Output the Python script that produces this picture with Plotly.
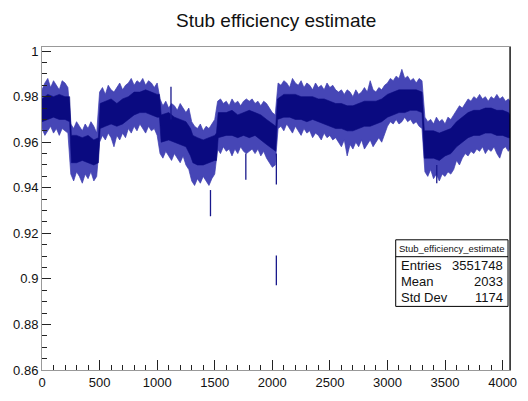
import plotly.graph_objects as go

# ---------------- data ----------------
# outer envelope of the per-bin error bars, sampled every 25 bins
outer_x = list(range(0, 4051, 25)) + [4064]
outer_hi = [
    0.983, 0.986, 0.988, 0.984, 0.987, 0.985, 0.983, 0.987, 0.986, 0.984,
    0.968, 0.966, 0.969, 0.967, 0.965, 0.968, 0.966, 0.969, 0.967, 0.964,
    0.982, 0.984, 0.981, 0.985, 0.983, 0.982, 0.984, 0.986, 0.983, 0.985,
    0.986, 0.988, 0.985, 0.987, 0.986, 0.988, 0.985, 0.987, 0.986, 0.984, 0.986,
    0.979, 0.976, 0.978, 0.975, 0.977, 0.976, 0.974, 0.977, 0.975, 0.973, 0.975,
    0.969, 0.967, 0.966, 0.968, 0.965, 0.967, 0.966, 0.968, 0.970,
    0.978, 0.979, 0.977, 0.978, 0.976, 0.979, 0.977, 0.978, 0.976, 0.978, 0.979,
    0.978, 0.979, 0.977, 0.978, 0.976, 0.978, 0.977, 0.975, 0.973, 0.972,
    0.986, 0.985, 0.987, 0.986, 0.984, 0.988, 0.986, 0.985, 0.987, 0.984,
    0.986, 0.985, 0.983, 0.986, 0.984, 0.985, 0.983, 0.986, 0.984, 0.985, 0.983,
    0.982, 0.983, 0.981, 0.983, 0.982, 0.980, 0.983, 0.981, 0.982, 0.984,
    0.982, 0.987, 0.983, 0.982, 0.984, 0.983, 0.985,
    0.986, 0.988, 0.987, 0.989, 0.988, 0.992, 0.988, 0.989, 0.987, 0.988,
    0.986, 0.988, 0.987,
    0.971, 0.969, 0.970, 0.968, 0.971, 0.969, 0.970, 0.968, 0.971, 0.970, 0.972,
    0.974, 0.976, 0.975, 0.977, 0.979, 0.978, 0.980, 0.979, 0.981, 0.979,
    0.980, 0.978, 0.980, 0.979, 0.981, 0.979, 0.980, 0.978, 0.979,
    0.978]
outer_lo = [
    0.966, 0.963, 0.965, 0.967, 0.964, 0.966, 0.963, 0.966, 0.965, 0.964,
    0.946, 0.943, 0.947, 0.945, 0.942, 0.946, 0.944, 0.947, 0.943, 0.945,
    0.960, 0.963, 0.961, 0.964, 0.962, 0.958, 0.963, 0.961, 0.964, 0.962,
    0.966, 0.964, 0.967, 0.965, 0.968, 0.966, 0.964, 0.967, 0.965, 0.966, 0.963,
    0.955, 0.953, 0.956, 0.954, 0.952, 0.955, 0.953, 0.951, 0.954, 0.950, 0.948,
    0.943, 0.941, 0.944, 0.942, 0.945, 0.943, 0.941, 0.944, 0.946,
    0.957, 0.955, 0.958, 0.956, 0.957, 0.954, 0.957, 0.955, 0.958, 0.956, 0.955,
    0.956, 0.957, 0.955, 0.957, 0.954, 0.956, 0.953, 0.951, 0.949, 0.950,
    0.966, 0.967, 0.965, 0.968, 0.966, 0.964, 0.967, 0.965, 0.963, 0.966,
    0.964, 0.965, 0.962, 0.964, 0.963, 0.961, 0.964, 0.962, 0.963, 0.961, 0.962,
    0.960, 0.958, 0.961, 0.954, 0.959, 0.957, 0.960, 0.958, 0.961, 0.957,
    0.959, 0.961, 0.958, 0.960, 0.962, 0.960, 0.963,
    0.967, 0.969, 0.968, 0.970, 0.968, 0.969, 0.971, 0.969, 0.970, 0.968,
    0.969, 0.967, 0.966,
    0.947, 0.945, 0.948, 0.944, 0.946, 0.943, 0.946, 0.945, 0.947, 0.946, 0.948,
    0.952, 0.950, 0.953, 0.955, 0.954, 0.956, 0.955, 0.957, 0.956, 0.958,
    0.955, 0.957, 0.956, 0.958, 0.955, 0.953, 0.957, 0.958, 0.956,
    0.957]

# dense core of the band
core_x = [0, 50, 100, 150, 200, 240,
          255, 300, 350, 400, 450, 490,
          505, 550, 600, 650, 700, 750, 800, 850, 900, 950, 1000, 1020,
          1035, 1100, 1150, 1200, 1250, 1290,
          1310, 1350, 1400, 1450, 1500, 1515,
          1530, 1600, 1650, 1700, 1750, 1800, 1850, 1900, 1950, 2000, 2030,
          2045, 2100, 2150, 2200, 2250, 2300, 2350, 2400, 2450, 2500, 2550,
          2600, 2650, 2700, 2750, 2800, 2850, 2900, 2950, 3000, 3050, 3100,
          3150, 3200, 3250, 3300,
          3320, 3350, 3400, 3450, 3500, 3550,
          3600, 3650, 3700, 3750, 3800, 3850, 3900, 3950, 4000, 4050, 4064]
core_hi = [0.979, 0.981, 0.980, 0.981, 0.980, 0.980,
           0.963, 0.963, 0.962, 0.963, 0.961, 0.962,
           0.977, 0.978, 0.979, 0.977, 0.979, 0.980, 0.982, 0.982, 0.983, 0.982, 0.981, 0.981,
           0.972, 0.973, 0.971, 0.970, 0.969, 0.966,
           0.963, 0.962, 0.961, 0.962, 0.963, 0.964,
           0.973, 0.973, 0.974, 0.972, 0.973, 0.974, 0.973, 0.972, 0.970, 0.968, 0.967,
           0.979, 0.981, 0.981, 0.981, 0.980, 0.980, 0.980, 0.979, 0.979, 0.978, 0.977,
           0.977, 0.976, 0.976, 0.977, 0.978, 0.978, 0.978, 0.979, 0.981, 0.982, 0.983,
           0.983, 0.983, 0.983, 0.982,
           0.965, 0.965, 0.965, 0.964, 0.965, 0.966,
           0.969, 0.971, 0.973, 0.974, 0.974, 0.975, 0.975, 0.974, 0.974, 0.973, 0.972]
core_lo = [0.969, 0.970, 0.971, 0.970, 0.970, 0.969,
           0.951, 0.951, 0.952, 0.951, 0.950, 0.951,
           0.966, 0.967, 0.968, 0.967, 0.968, 0.970, 0.972, 0.973, 0.973, 0.972, 0.971, 0.971,
           0.960, 0.961, 0.960, 0.959, 0.958, 0.954,
           0.951, 0.950, 0.950, 0.951, 0.952, 0.952,
           0.962, 0.963, 0.963, 0.962, 0.963, 0.962, 0.963, 0.961, 0.959, 0.957, 0.956,
           0.970, 0.971, 0.971, 0.970, 0.970, 0.969, 0.970, 0.969, 0.968, 0.967, 0.966,
           0.966, 0.965, 0.965, 0.966, 0.967, 0.967, 0.968, 0.969, 0.971, 0.972, 0.973,
           0.973, 0.974, 0.974, 0.973,
           0.953, 0.953, 0.953, 0.952, 0.954, 0.955,
           0.958, 0.960, 0.962, 0.963, 0.963, 0.964, 0.964, 0.963, 0.963, 0.962, 0.962]

# isolated long error bars / spikes
spike_x = [1120, 1463, 1770, 2035, 2035, 3428]
spike_lo = [0.970, 0.9275, 0.9435, 0.9414, 0.8972, 0.942]
spike_hi = [0.9844, 0.939, 0.955, 0.955, 0.9103, 0.950]

stats_labels = ["Entries", "Mean", "Std Dev"]
stats_values = ["3551748", "2033", "1174"]
stats_name = "Stub_efficiency_estimate"
title_text = "Stub efficiency estimate"

x_range = [0, 4064]
y_range = [0.86, 1.0018]

assert len(outer_x) == len(outer_hi) == len(outer_lo)
assert len(core_x) == len(core_hi) == len(core_lo)

# ---------------- figure ----------------
W, H = 528, 401
L, R, T, B = 42, 517, 47, 372  # plot-area pixel edges


def px(xp):
    return (xp - L) / (R - L)


def py(yp):
    return (B - yp) / (B - T)


fig = go.Figure()

fig.add_trace(go.Scatter(
    x=outer_x + outer_x[::-1], y=outer_hi + outer_lo[::-1],
    mode="lines", fill="toself", fillcolor="rgb(70,70,182)",
    line=dict(width=0.7, color="rgb(60,60,175)"), hoverinfo="skip"))
fig.add_trace(go.Scatter(
    x=core_x + core_x[::-1], y=core_hi + core_lo[::-1],
    mode="lines", fill="toself", fillcolor="rgb(10,10,128)",
    line=dict(width=0.6, color="rgb(10,10,128)"), hoverinfo="skip"))

sx, sy = [], []
for xv, lo, hi in zip(spike_x, spike_lo, spike_hi):
    sx += [xv, xv, None]
    sy += [lo, hi, None]
fig.add_trace(go.Scatter(x=sx, y=sy, mode="lines",
                         line=dict(color="rgb(25,25,140)", width=1.3),
                         hoverinfo="skip"))

fig.update_layout(
    width=W, height=H,
    margin=dict(l=L, r=W - R, t=T, b=H - B),
    paper_bgcolor="white", plot_bgcolor="white",
    showlegend=False,
    font=dict(family="Liberation Sans, Arial, sans-serif", size=13, color="#111"),
)
fig.update_xaxes(
    range=x_range, tickmode="linear", tick0=0, dtick=500,
    ticks="inside", ticklen=10, tickcolor="#222", tickwidth=1,
    minor=dict(dtick=100, ticks="inside", ticklen=5, tickcolor="#222"),
    showgrid=False, zeroline=False, showline=True, linecolor="#999",
    linewidth=1, mirror=True, tickfont=dict(size=13))
fig.update_yaxes(
    range=y_range, tickmode="linear", tick0=0.86, dtick=0.02,
    ticks="inside", ticklen=9, tickcolor="#222", tickwidth=1,
    minor=dict(dtick=0.005, ticks="inside", ticklen=5, tickcolor="#222"),
    showgrid=False, zeroline=False, showline=True, linecolor="#999",
    linewidth=1, mirror=True, tickfont=dict(size=13))

shapes = [
    dict(type="line", xref="paper", yref="paper", x0=1, x1=1, y0=0, y1=1,
         line=dict(color="black", width=1.2)),
    dict(type="rect", xref="paper", yref="paper",
         x0=px(401), x1=px(515), y0=py(308), y1=py(241),
         line=dict(color="black", width=1), fillcolor="white"),
    dict(type="line", xref="paper", yref="paper",
         x0=px(401), x1=px(515), y0=py(258), y1=py(258),
         line=dict(color="black", width=1)),
]
fig.update_layout(shapes=shapes)

ann = [
    dict(text=title_text, xref="paper", yref="paper", x=px(279), y=py(20),
         xanchor="center", yanchor="middle", showarrow=False,
         font=dict(size=19, color="#111")),
    dict(text=stats_name, xref="paper", yref="paper", x=px(458), y=py(249.5),
         xanchor="center", yanchor="middle", showarrow=False,
         font=dict(size=9.5, color="#111")),
]
row_y = [266.5, 283, 299.5]
for lab, val, yy in zip(stats_labels, stats_values, row_y):
    ann.append(dict(text=lab, xref="paper", yref="paper", x=px(404), y=py(yy),
                    xanchor="left", yanchor="middle", showarrow=False,
                    font=dict(size=13, color="#111")))
    ann.append(dict(text=val, xref="paper", yref="paper", x=px(512), y=py(yy),
                    xanchor="right", yanchor="middle", showarrow=False,
                    font=dict(size=13, color="#111")))
fig.update_layout(annotations=ann)

fig.write_html("out.html")
